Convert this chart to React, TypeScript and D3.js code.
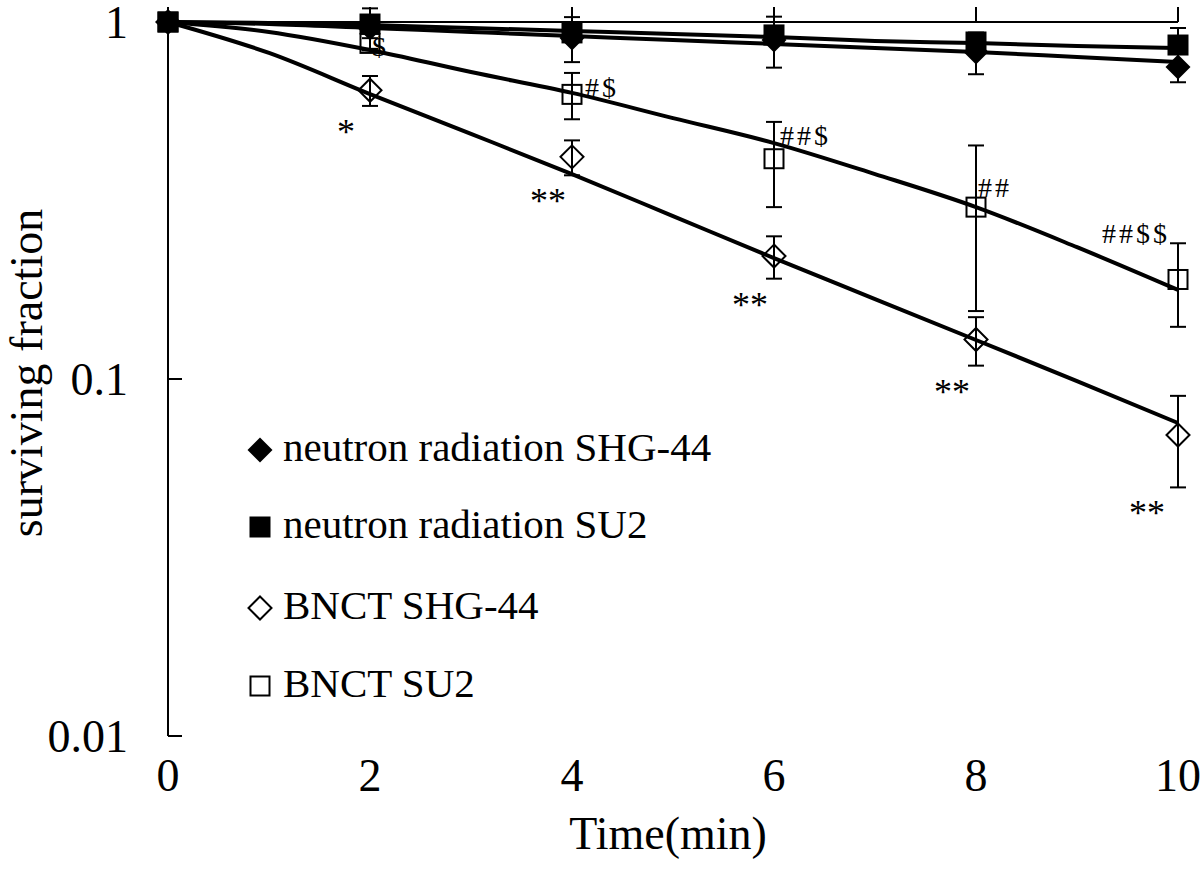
import React from "react"
import * as d3 from "d3"

// measured points (mean and SD, linear units)
const times = [0, 2, 4, 6, 8, 10]
const neutronSHG = [1, 0.962, 0.902, 0.89, 0.824, 0.748]
const neutronSHGsd = [0, 0.13, 0.13, 0.145, 0.11, 0.07]
const neutronSU2 = [1, 0.987, 0.932, 0.92, 0.879, 0.862]
const neutronSU2sd = [0, 0.02, 0.02, 0.02, 0.02, 0.1]
const bnctSHG = [1, 0.644, 0.419, 0.221, 0.129, 0.0697]
const bnctSHGsd = [0, 0.062, 0.047, 0.03, 0.02, 0.02]
const bnctSU2 = [1, 0.871, 0.627, 0.414, 0.303, 0.19]
const bnctSU2sd = [0, 0.03, 0.093, 0.111, 0.148, 0.05]

const fitTimes = [0, 1, 2, 3, 4, 5, 6, 7, 8, 9, 10]
const fitNeutronSU2 = [1, 0.994, 0.981, 0.962, 0.944, 0.926, 0.908, 0.885, 0.873, 0.856, 0.846]
const fitNeutronSHG = [1, 0.987, 0.962, 0.938, 0.914, 0.89, 0.868, 0.846, 0.824, 0.798, 0.773]
const fitBnctSHG = [1, 0.819, 0.628, 0.486, 0.375, 0.286, 0.218, 0.1675, 0.1286, 0.0987, 0.0753]
const fitBnctSU2 = [1, 0.938, 0.835, 0.724, 0.633, 0.538, 0.458, 0.375, 0.303, 0.234, 0.1776]

const seriesNames = ["neutron radiation SHG-44", "neutron radiation SU2", "BNCT SHG-44", "BNCT SU2"]
const xTicks = [0, 2, 4, 6, 8, 10]
const yTicks = [1, 0.1, 0.01]
const yTickLabels = ["1", "0.1", "0.01"]

// significance marks at t = 2..10
const starLabels = ["*", "**", "**", "**", "**"]
const hashLabels = ["$", "#$", "##$", "##", "##$$"]

const W = 1200
const H = 883
const FONT = "'Liberation Serif', 'Times New Roman', serif"

const x = d3.scaleLinear().domain([0, 10]).range([168, 1178])
const y = d3.scaleLog().domain([0.01, 1]).range([736, 22])

const line = d3
  .line<[number, number]>()
  .x((d) => x(d[0]))
  .y((d) => y(d[1]))
  .curve(d3.curveMonotoneX)

function Marker({ kind, cx, cy }: { kind: number; cx: number; cy: number }) {
  if (kind === 0) {
    const r = 12.5
    return <path d={`M${cx},${cy - r}L${cx + r},${cy}L${cx},${cy + r}L${cx - r},${cy}Z`} fill="#000" />
  }
  if (kind === 1) {
    const h = 10.5
    return <rect x={cx - h} y={cy - h} width={h * 2} height={h * 2} fill="#000" />
  }
  if (kind === 2) {
    const r = 11.5
    return (
      <path
        d={`M${cx},${cy - r}L${cx + r},${cy}L${cx},${cy + r}L${cx - r},${cy}Z`}
        fill="none"
        stroke="#000"
        strokeWidth={2}
      />
    )
  }
  const h = 9.5
  return <rect x={cx - h} y={cy - h} width={h * 2} height={h * 2} fill="none" stroke="#000" strokeWidth={2} />
}

export default function App() {
  const series = [
    { vals: neutronSHG, sd: neutronSHGsd },
    { vals: neutronSU2, sd: neutronSU2sd },
    { vals: bnctSHG, sd: bnctSHGsd },
    { vals: bnctSU2, sd: bnctSU2sd },
  ]
  const fits = [fitNeutronSU2, fitNeutronSHG, fitBnctSHG, fitBnctSU2]

  // where the "#/$" labels sit relative to the open squares
  const hashOffsets = [
    [2, 13],
    [13, 3],
    [6, -14],
    [2, -10],
    [-76, -36],
  ]

  const legendY = [450, 527, 608, 686]

  return (
    <svg
      width={W}
      height={H}
      viewBox={`0 0 ${W} ${H}`}
      style={{ position: "absolute", left: 0, top: 0, background: "#fff" }}
      fontFamily={FONT}
    >
      <rect width={W} height={H} fill="#fff" />

      {/* axes */}
      <line x1={x(0)} x2={x(10)} y1={y(1)} y2={y(1)} stroke="#000" strokeWidth={2} />
      {xTicks.map((t) => (
        <line key={t} x1={x(t)} x2={x(t)} y1={y(1)} y2={y(1) - 15} stroke="#000" strokeWidth={2} />
      ))}
      <line x1={x(0)} x2={x(0)} y1={y(1)} y2={y(0.01)} stroke="#000" strokeWidth={2} />
      {yTicks.map((v) => (
        <line key={v} x1={x(0)} x2={x(0) + 14} y1={y(v)} y2={y(v)} stroke="#000" strokeWidth={2} />
      ))}

      {xTicks.map((t) => (
        <text key={t} x={x(t)} y={791} fontSize={46} textAnchor="middle">
          {t}
        </text>
      ))}
      {yTicks.map((v, i) => (
        <text key={v} x={128} y={y(v) + 15.5} fontSize={46} textAnchor="end">
          {yTickLabels[i]}
        </text>
      ))}
      <text x={668} y={849} fontSize={46} textAnchor="middle">
        Time(min)
      </text>
      <text transform="translate(42,373) rotate(-90)" fontSize={46} textAnchor="middle">
        surviving fraction
      </text>

      {/* fitted curves */}
      {fits.map((f, i) => (
        <path
          key={i}
          d={line(fitTimes.map((t, j) => [t, f[j]] as [number, number])) || ""}
          fill="none"
          stroke="#000"
          strokeWidth={4}
        />
      ))}

      {/* error bars */}
      {series.map((s, si) =>
        times.map((t, i) => {
          if (!s.sd[i]) return null
          const lo = y(s.vals[i] - s.sd[i])
          const hi = y(s.vals[i] + s.sd[i])
          const cx = x(t)
          return (
            <g key={`${si}-${i}`} stroke="#000" strokeWidth={2}>
              <line x1={cx} x2={cx} y1={lo} y2={hi} />
              <line x1={cx - 8} x2={cx + 8} y1={lo} y2={lo} />
              <line x1={cx - 8} x2={cx + 8} y1={hi} y2={hi} />
            </g>
          )
        })
      )}

      {/* markers */}
      {[2, 3, 0, 1].map((si) =>
        times.map((t, i) => <Marker key={`${si}-${i}`} kind={si} cx={x(t)} cy={y(series[si].vals[i])} />)
      )}

      {/* significance labels */}
      {starLabels.map((s, i) => {
        const k = i + 1
        const low = y(bnctSHG[k] - bnctSHGsd[k])
        return (
          <text key={`s${i}`} x={x(times[k]) - (k === 5 ? 31 : 24)} y={low + 38} fontSize={36} textAnchor="middle">
            {s}
          </text>
        )
      })}
      {hashLabels.map((s, i) => {
        const k = i + 1
        return (
          <text
            key={`h${i}`}
            x={x(times[k]) + hashOffsets[i][0]}
            y={y(bnctSU2[k]) + hashOffsets[i][1]}
            fontSize={28}
            letterSpacing={3}
          >
            {s}
          </text>
        )
      })}

      {/* legend */}
      {seriesNames.map((name, i) => (
        <g key={name}>
          <Marker kind={i} cx={260} cy={legendY[i]} />
          <text x={283} y={legendY[i] + 11} fontSize={41}>
            {name}
          </text>
        </g>
      ))}
    </svg>
  )
}
